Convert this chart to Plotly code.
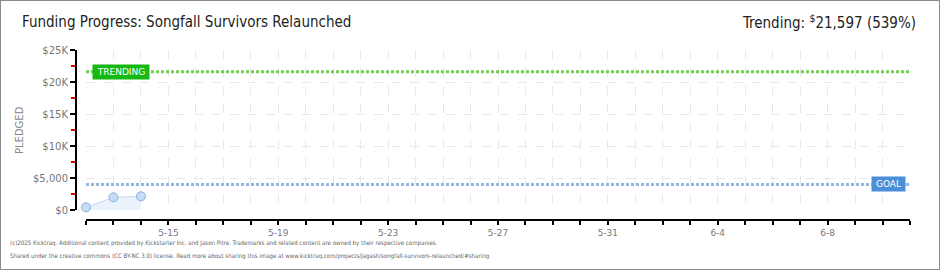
import plotly.graph_objects as go

# ---- data ----
dates = ["2025-05-12", "2025-05-13", "2025-05-14"]
pledged = [420, 1980, 2140]
goal = 4000
trending = 21597
trending_pct = 539
x_start, x_end = "2025-05-12", "2025-06-11"
y_tickvals = [0, 5000, 10000, 15000, 20000, 25000]
y_ticktext = ["$0", "$5,000", "$10K", "$15K", "$20K", "$25K"]

W, H = 940, 270
DAY = 86400000
FONT = "Liberation Sans Narrow, DejaVu Sans Condensed, sans-serif"
TICKFONT = dict(family="DejaVu Sans, sans-serif", size=10, color="#777")

fig = go.Figure()

fig.add_trace(go.Scatter(
    x=dates, y=pledged, mode="lines+markers", fill="tozeroy",
    fillcolor="rgba(214,230,250,0.5)",
    line=dict(color="#c8dcf3", width=1),
    marker=dict(size=9, color="#c6dcf6", line=dict(color="#8aaedb", width=1)),
    cliponaxis=False, hoverinfo="skip", showlegend=False,
))
# invisible trace to anchor the offset axes
fig.add_trace(go.Scatter(x=[x_start], y=[0], xaxis="x2", yaxis="y2",
                         mode="markers", marker=dict(opacity=0),
                         hoverinfo="skip", showlegend=False))

x0d, x1d = 86 / W, 910 / W
yb, yt = (H - 210) / H, (H - 50) / H

fig.update_layout(
    width=W, height=H, margin=dict(l=0, r=0, t=0, b=0, autoexpand=False),
    paper_bgcolor="white", plot_bgcolor="white",
    xaxis=dict(domain=[x0d, x1d], range=[x_start, x_end], type="date",
               dtick=DAY, tick0=x_start, showgrid=True, gridcolor="#e8e8e8",
               griddash="dash", gridwidth=1, showticklabels=False, ticks="",
               zeroline=False, showline=False, automargin=False),
    yaxis=dict(domain=[yb, yt], range=[0, 25000], dtick=5000, showgrid=True,
               gridcolor="#e8e8e8", griddash="dash", gridwidth=1,
               showticklabels=False, ticks="", zeroline=False, showline=False,
               automargin=False),
    xaxis2=dict(overlaying="x", matches="x", anchor="free",
                position=(H - 220) / H, type="date", showgrid=False,
                showline=True, linecolor="#000", linewidth=2,
                ticks="outside", ticklen=4, tickcolor="#000", tickwidth=2,
                dtick=4 * DAY, tick0="2025-05-15", tickformat="%-m-%-d",
                tickfont=dict(family="DejaVu Sans, sans-serif", size=9, color="#777"),
                zeroline=False, automargin=False,
                minor=dict(ticks="outside", dtick=DAY, tick0=x_start,
                           ticklen=4, tickcolor="#000", tickwidth=2,
                           showgrid=False)),
    yaxis2=dict(overlaying="y", matches="y", anchor="free",
                position=76 / W, showgrid=False, showline=True,
                linecolor="#000", linewidth=2, ticks="outside", ticklen=5,
                tickcolor="#000", tickwidth=2, tickmode="array",
                tickvals=y_tickvals, ticktext=y_ticktext, tickfont=TICKFONT,
                zeroline=False, automargin=False,
                minor=dict(ticks="outside", tickmode="linear", tick0=0,
                           dtick=2500, ticklen=4, tickcolor="#e00000",
                           tickwidth=2, showgrid=False)),
)

# trending & goal lines
fig.add_shape(type="line", xref="x", yref="y", x0=x_start, x1=x_end,
              y0=trending, y1=trending,
              line=dict(color="#6cd34c", width=3, dash="3px,2px"))
fig.add_shape(type="line", xref="x", yref="y", x0=x_start, x1=x_end,
              y0=goal, y1=goal,
              line=dict(color="#94b6e2", width=3, dash="3px,2px"))

fig.add_annotation(x=121 / W, xref="paper", y=trending, yref="y",
                   xanchor="center", yanchor="middle",
                   text="TRENDING", showarrow=False,
                   font=dict(family="DejaVu Sans, sans-serif", size=9, color="white"),
                   bgcolor="#16b814", borderpad=2, width=52)
fig.add_annotation(x=888 / W, xref="paper", y=goal, yref="y",
                   xanchor="center", yanchor="middle",
                   text="GOAL", showarrow=False,
                   font=dict(family="DejaVu Sans, sans-serif", size=9, color="white"),
                   bgcolor="#4a8fd8", borderpad=2, width=29)

# titles
fig.add_annotation(x=20 / W, y=1 - 22 / H, xref="paper", yref="paper",
                   xanchor="left", yanchor="middle", showarrow=False,
                   text="Funding Progress: Songfall Survivors Relaunched",
                   font=dict(family=FONT, size=15, color="#222"))
fig.add_annotation(x=918 / W, y=1 - 22 / H, xref="paper", yref="paper",
                   xanchor="right", yanchor="middle", showarrow=False,
                   text=f"Trending: <sup>$</sup>{trending:,} ({trending_pct}%)",
                   font=dict(family=FONT, size=15, color="#222"))
fig.add_annotation(x=20 / W, y=1 - 130 / H, xref="paper", yref="paper",
                   xanchor="center", yanchor="middle", showarrow=False,
                   text="PLEDGED", textangle=-90,
                   font=dict(family="DejaVu Sans, sans-serif", size=10, color="#888"))

# footer
fig.add_annotation(x=8 / W, y=1 - 243 / H, xref="paper", yref="paper",
                   xanchor="left", yanchor="middle", showarrow=False,
                   text="(c)2025 Kicktraq. Additional content provided by Kickstarter Inc. and Jason Pitre. Trademarks and related content are owned by their respective companies.",
                   font=dict(family=FONT, size=6.1, color="#666"))
fig.add_annotation(x=8 / W, y=1 - 256 / H, xref="paper", yref="paper",
                   xanchor="left", yanchor="middle", showarrow=False,
                   text="Shared under the creative commons (CC BY-NC 3.0) license. Read more about sharing this image at www.kicktraq.com/projects/Jagash/songfall-survivors-relaunched/#sharing",
                   font=dict(family=FONT, size=6.1, color="#666"))

# frame
fig.add_shape(type="rect", xref="paper", yref="paper", x0=0, x1=1, y0=0, y1=1,
              line=dict(color="#8a8a8a", width=2))

fig.write_html("out.html")
